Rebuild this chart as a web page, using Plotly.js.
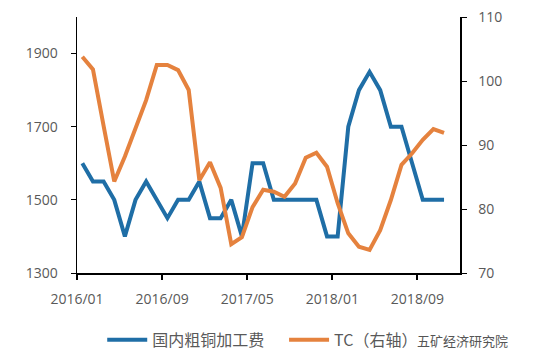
<!DOCTYPE html>
<html>
<head>
<meta charset="utf-8">
<script src="https://cdn.plot.ly/plotly-3.0.1.min.js"></script>
<style>html,body{margin:0;padding:0;background:#fff;}#chart{width:538px;height:354px;}</style>
</head>
<body>
<div id="chart"></div>
<script>
// Months 2016/01 .. 2018/11 (index positions on a 36-month axis)
var months = ['2016/01','2016/02','2016/03','2016/04','2016/05','2016/06','2016/07','2016/08','2016/09','2016/10','2016/11','2016/12',
              '2017/01','2017/02','2017/03','2017/04','2017/05','2017/06','2017/07','2017/08','2017/09','2017/10','2017/11','2017/12',
              '2018/01','2018/02','2018/03','2018/04','2018/05','2018/06','2018/07','2018/08','2018/09','2018/10','2018/11'];
var domesticFee = [1600,1550,1550,1500,1400,1500,1550,1500,1450,1500,1500,1550,
                   1450,1450,1500,1400,1600,1600,1500,1500,1500,1500,1500,1400,
                   1400,1700,1800,1850,1800,1700,1700,1600,1500,1500,1500];
var tcRight = [103.8,101.8,93.0,84.3,88.2,92.5,97.0,102.5,102.5,101.7,98.6,84.5,
               87.3,83.3,74.5,75.6,80.3,83.0,82.7,81.9,84.0,88.0,88.8,86.6,
               80.9,76.2,74.1,73.6,76.7,81.4,86.9,88.7,90.8,92.5,91.9];
var tickLabels = ['2016/01','2016/09','2017/05','2018/01','2018/09'];
var seriesNames = ['国内粗铜加工费','TC（右轴）'];

var xIdx = months.map(function(m, i){ return i; });
var tickPos = tickLabels.map(function(t){ return months.indexOf(t) - 0.5; });

var font = '"Open Sans", "Noto Sans CJK SC", sans-serif';
var legFont = {family: '"Noto Sans CJK SC", sans-serif', size: 16, color: '#595959'};
var traces = [
  {x: xIdx, y: domesticFee, name: seriesNames[0], type: 'scatter', mode: 'lines',
   line: {color: '#1f6ea6', width: 4}, yaxis: 'y', legend: 'legend'},
  {x: xIdx, y: tcRight, name: seriesNames[1], type: 'scatter', mode: 'lines',
   line: {color: '#e5823e', width: 4}, yaxis: 'y2', legend: 'legend2'}
];
var layout = {
  width: 538, height: 354,
  margin: {l: 77, r: 78, t: 17, b: 81},
  paper_bgcolor: '#fff', plot_bgcolor: '#fff',
  font: {family: font, size: 13, color: '#595959'},
  showlegend: true,
  legend: {orientation: 'h', xref: 'container', yref: 'container', x: 0.19, xanchor: 'left',
           y: 0.04, yanchor: 'middle', font: legFont, itemwidth: 40},
  legend2: {orientation: 'h', xref: 'container', yref: 'container', x: 0.528, xanchor: 'left',
           y: 0.04, yanchor: 'middle', font: legFont, itemwidth: 40},
  xaxis: {range: [-0.5, 35.5], tickmode: 'array', tickvals: tickPos, ticktext: tickLabels,
          showgrid: false, zeroline: false, showline: true, linecolor: '#000', linewidth: 2,
          ticks: 'outside', ticklen: 5, tickwidth: 2, tickcolor: '#000', ticklabelstandoff: 7,
          automargin: false, tickfont: {size: 14, color: '#595959'}},
  yaxis: {range: [1300, 2000], tick0: 1300, dtick: 200, showgrid: false, zeroline: false,
          showline: true, linecolor: '#000', linewidth: 1.5, ticks: 'outside', ticklen: 5,
          ticklabelstandoff: 10, automargin: false,
          tickcolor: '#000', tickfont: {size: 14, color: '#595959'}},
  yaxis2: {range: [70, 110], dtick: 10, overlaying: 'y', side: 'right', showgrid: false,
           zeroline: false, showline: true, linecolor: '#000', linewidth: 1.5, ticks: 'outside',
           ticklen: 5, ticklabelstandoff: 9, automargin: false,
           tickcolor: '#000', tickfont: {size: 14, color: '#595959'}},
  annotations: [
    {xref: 'paper', yref: 'paper', x: 1.13, y: -0.262, xanchor: 'right', yanchor: 'middle',
     text: '五矿经济研究院', showarrow: false, bgcolor: 'rgba(255,255,255,0.85)',
     font: {family: '"Noto Sans CJK SC", sans-serif', size: 13, color: '#555'}}
  ]
};
Plotly.newPlot('chart', traces, layout, {displayModeBar: false, staticPlot: true});
</script>
</body>
</html>
